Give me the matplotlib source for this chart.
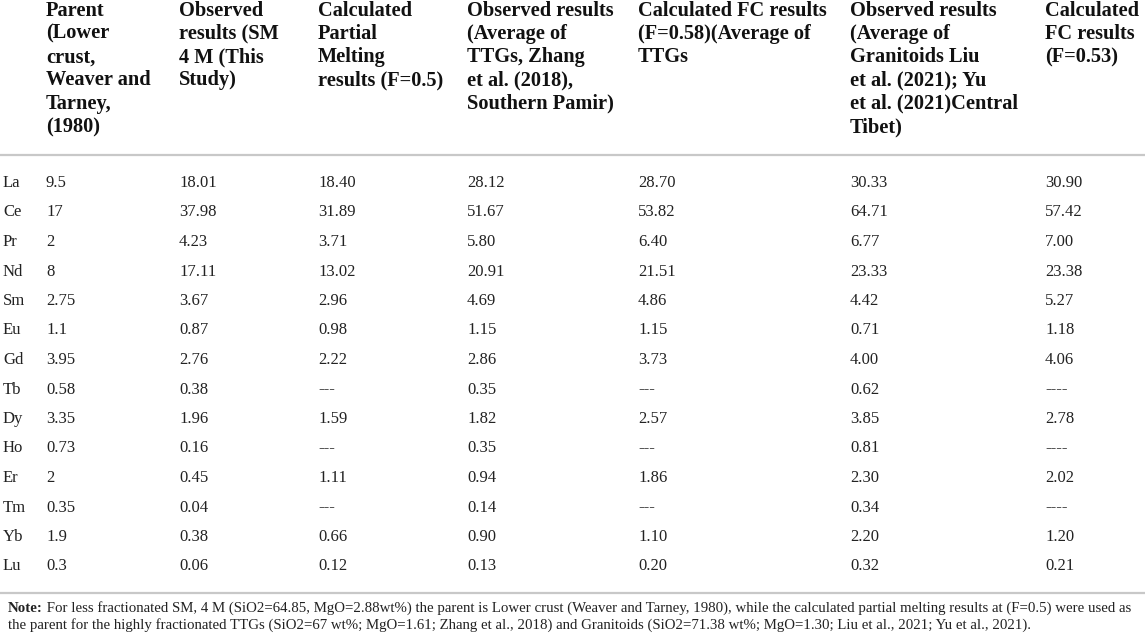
import matplotlib
matplotlib.use("Agg")
import matplotlib.pyplot as plt

elements = ["La", "Ce", "Pr", "Nd", "Sm", "Eu", "Gd", "Tb", "Dy", "Ho", "Er", "Tm", "Yb", "Lu"]
headers = [
    "Parent\n(Lower\ncrust,\nWeaver and\nTarney,\n(1980)",
    "Observed\nresults (SM\n4 M (This\nStudy)",
    "Calculated\nPartial\nMelting\nresults (F=0.5)",
    "Observed results\n(Average of\nTTGs, Zhang\net al. (2018),\nSouthern Pamir)",
    "Calculated FC results\n(F=0.58)(Average of\nTTGs",
    "Observed results\n(Average of\nGranitoids Liu\net al. (2021); Yu\net al. (2021)Central\nTibet)",
    "Calculated\nFC results\n(F=0.53)",
]
parent = ["9.5", "17", "2", "8", "2.75", "1.1", "3.95", "0.58", "3.35", "0.73", "2", "0.35", "1.9", "0.3"]
obs_sm = ["18.01", "37.98", "4.23", "17.11", "3.67", "0.87", "2.76", "0.38", "1.96", "0.16", "0.45", "0.04", "0.38", "0.06"]
calc_pm = ["18.40", "31.89", "3.71", "13.02", "2.96", "0.98", "2.22", "---", "1.59", "---", "1.11", "---", "0.66", "0.12"]
obs_ttg = ["28.12", "51.67", "5.80", "20.91", "4.69", "1.15", "2.86", "0.35", "1.82", "0.35", "0.94", "0.14", "0.90", "0.13"]
calc_fc_ttg = ["28.70", "53.82", "6.40", "21.51", "4.86", "1.15", "3.73", "---", "2.57", "---", "1.86", "---", "1.10", "0.20"]
obs_gran = ["30.33", "64.71", "6.77", "23.33", "4.42", "0.71", "4.00", "0.62", "3.85", "0.81", "2.30", "0.34", "2.20", "0.32"]
calc_fc_gran = ["30.90", "57.42", "7.00", "23.38", "5.27", "1.18", "4.06", "----", "2.78", "----", "2.02", "----", "1.20", "0.21"]
note_label = "Note:"
note_line1 = (" For less fractionated SM, 4 M (SiO2=64.85, MgO=2.88wt%) the parent is Lower crust "
              "(Weaver and Tarney, 1980), while the calculated partial melting results at (F=0.5) were used as")
note_line2 = ("the parent for the highly fractionated TTGs (SiO2=67 wt%; MgO=1.61; Zhang et al., 2018) and "
              "Granitoids (SiO2=71.38 wt%; MgO=1.30; Liu et al., 2021; Yu et al., 2021).")

columns = [parent, obs_sm, calc_pm, obs_ttg, calc_fc_ttg, obs_gran, calc_fc_gran]

W, H = 1145, 641
fig = plt.figure(figsize=(W / 100, H / 100), dpi=100)
ax = fig.add_axes([0, 0, 1, 1])
ax.set_xlim(0, W)
ax.set_ylim(H, 0)
ax.axis("off")

serif = ["Liberation Serif", "DejaVu Serif"]
col_x = [46, 179, 318, 467, 638, 850, 1045]
elem_x = 3
row_y0 = 183
row_dy = 29.5
txt_color = "#222222"

for x, h in zip(col_x, headers):
    ax.text(x, 0.5, h, ha="left", va="top", fontsize=14.7, fontweight="bold",
            family=serif, color="#111111", linespacing=1.22)

ax.plot([0, W], [155, 155], color="#c8c8c8", lw=1.6, solid_capstyle="butt")
ax.plot([0, W], [593, 593], color="#c8c8c8", lw=1.6, solid_capstyle="butt")

for i, el in enumerate(elements):
    y = row_y0 + i * row_dy
    ax.text(elem_x, y, el, ha="left", va="center", fontsize=12, family=serif, color=txt_color)
    for x, col in zip(col_x, columns):
        ax.text(x, y, col[i], ha="left", va="center", fontsize=12, family=serif, color=txt_color)

note_fs = 10.7
t = ax.text(8, 608, note_label, ha="left", va="center", fontsize=note_fs, fontweight="bold",
            family=serif, color=txt_color)
fig.canvas.draw()
bb = t.get_window_extent()
inv = ax.transData.inverted()
x_end = inv.transform((bb.x1, bb.y0))[0]
ax.text(x_end, 608, note_line1, ha="left", va="center", fontsize=note_fs, family=serif, color=txt_color)
ax.text(8, 625, note_line2, ha="left", va="center", fontsize=note_fs, family=serif, color=txt_color)

fig.savefig("out.png", dpi=100)
